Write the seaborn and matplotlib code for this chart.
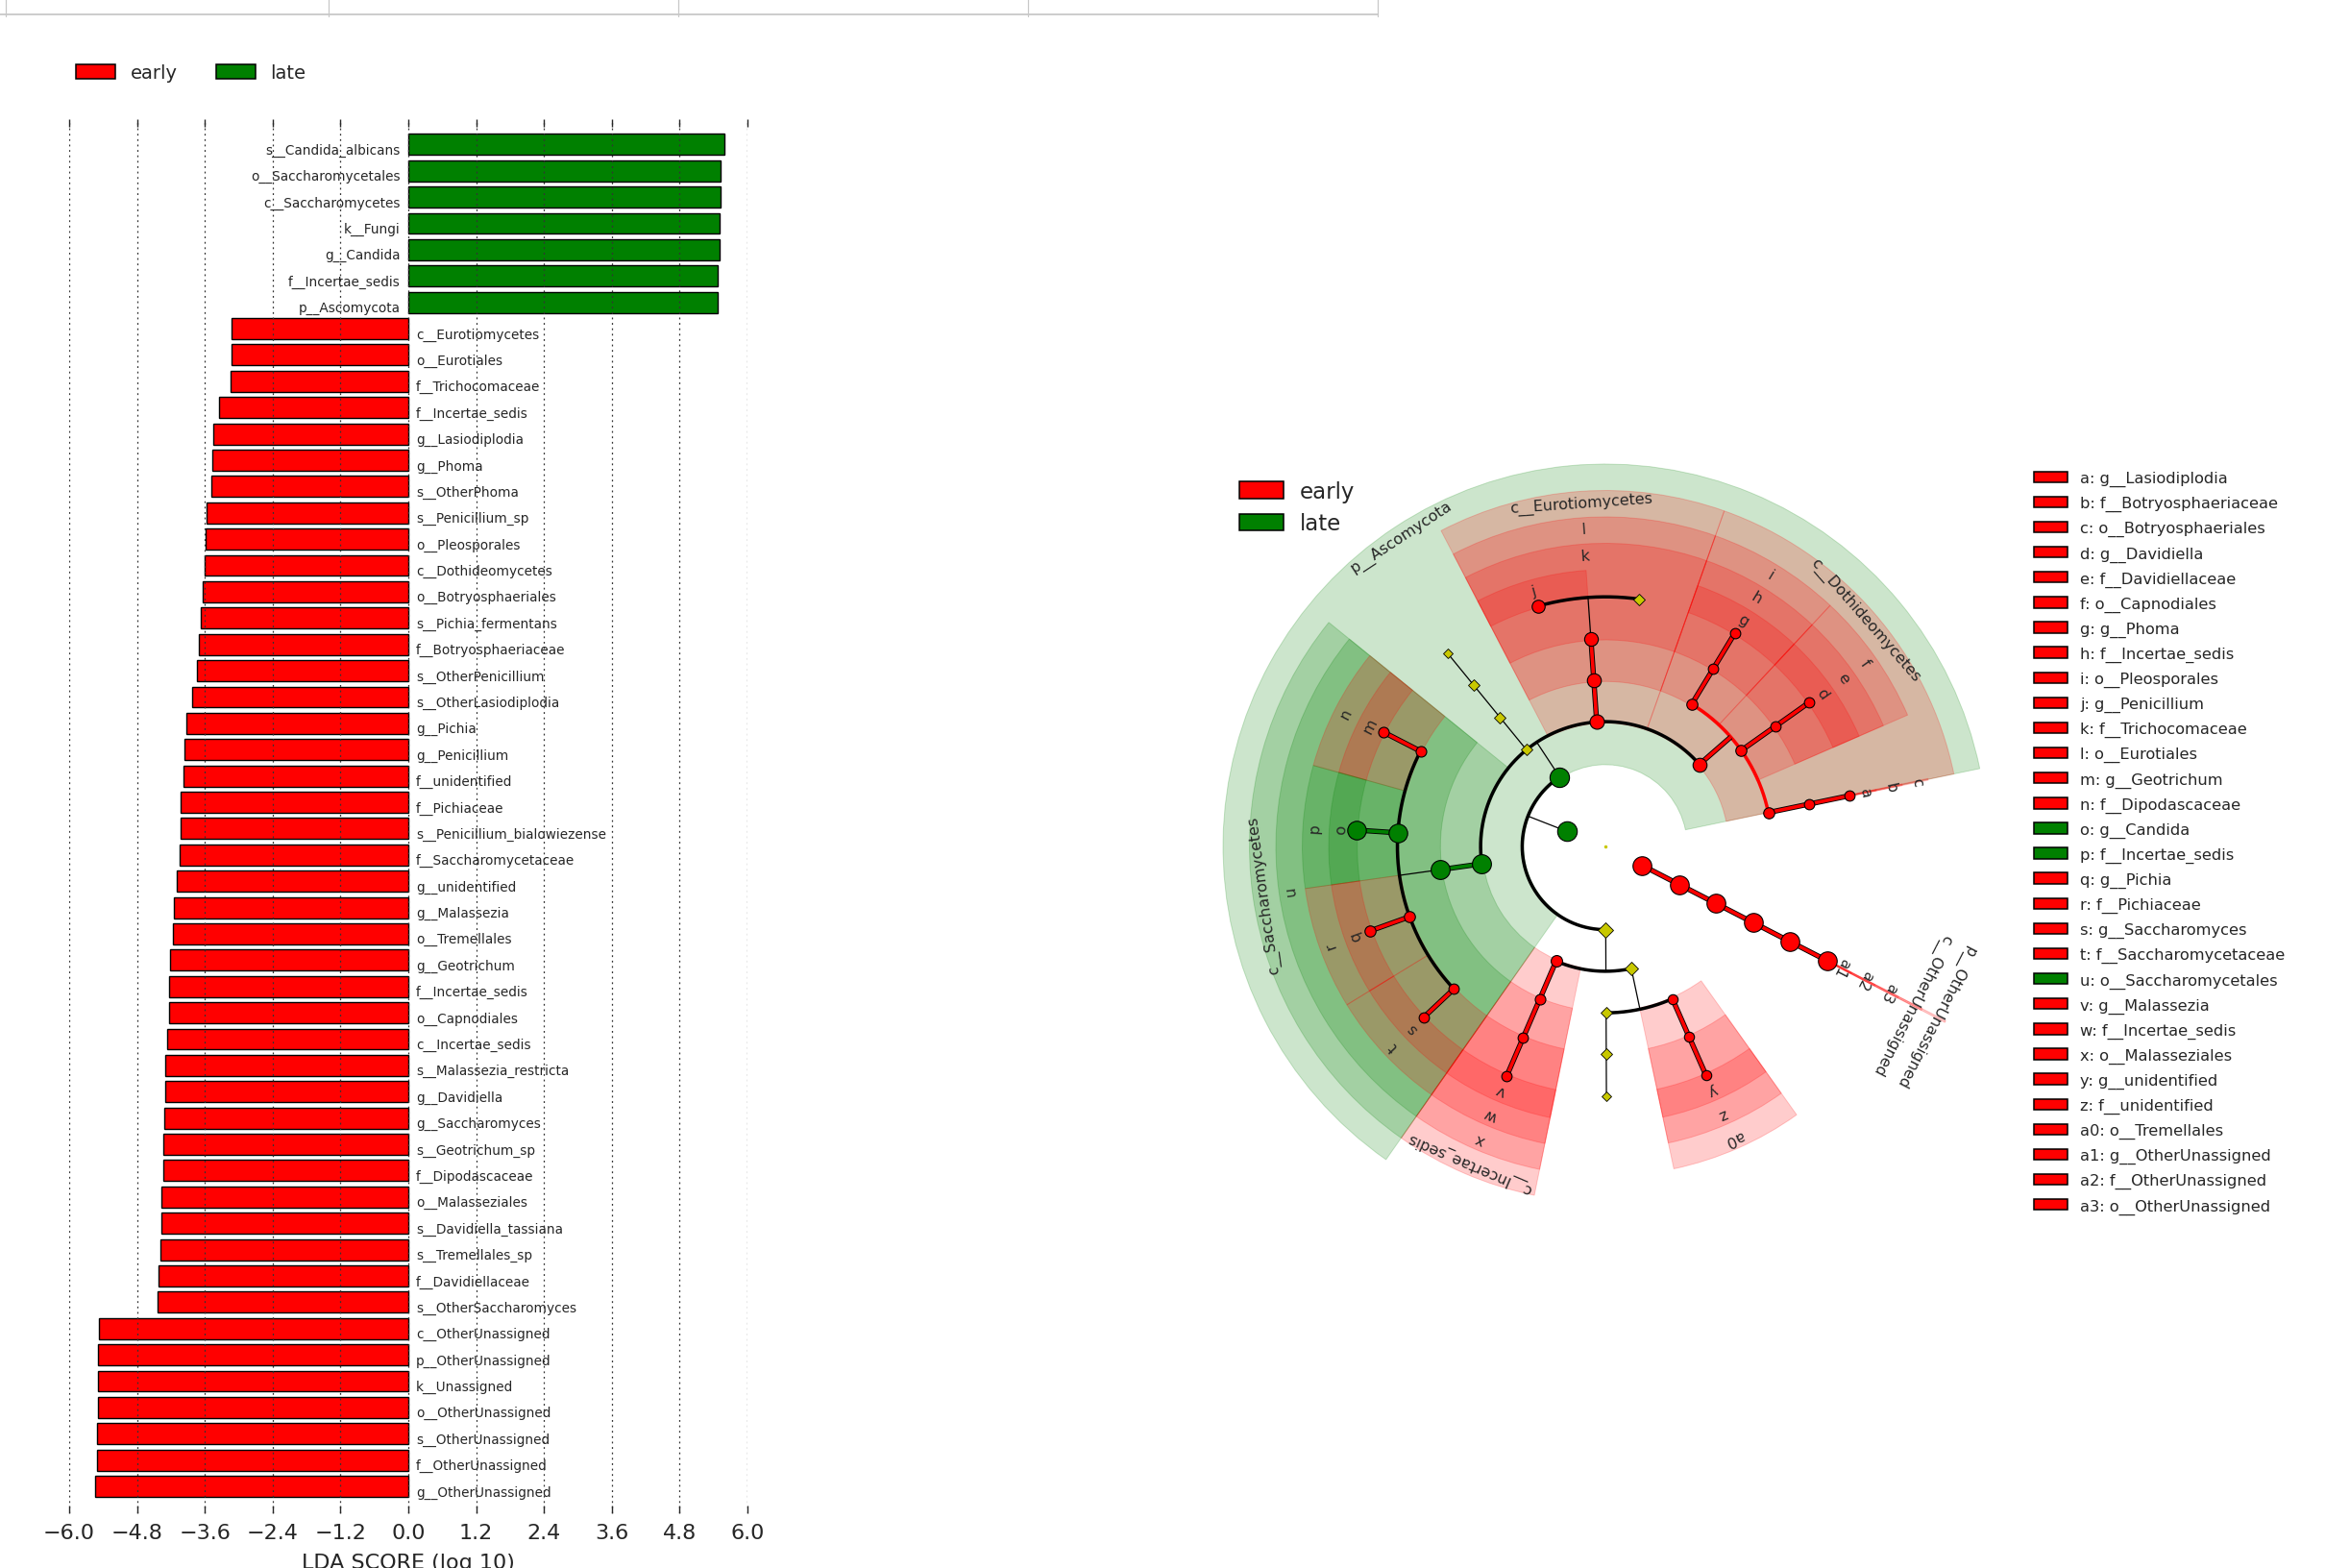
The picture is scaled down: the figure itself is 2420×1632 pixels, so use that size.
import numpy as np
import pandas as pd
import matplotlib
matplotlib.use("Agg")
import matplotlib.pyplot as plt
import matplotlib.patheffects as pe
from matplotlib.patches import Patch
from matplotlib.lines import Line2D
import seaborn as sns

sns.set_style("white")
plt.rcParams["font.family"] = ["DejaVu Sans"]

RED = "#ff0000"
GREEN = "#008000"
YELLOW = "#c8c800"
class_colors = {"early": RED, "late": GREEN}

# ---------------- LDA bar chart data ----------------
features = [
    "s__Candida_albicans", "o__Saccharomycetales", "c__Saccharomycetes", "k__Fungi",
    "g__Candida", "f__Incertae_sedis", "p__Ascomycota",
    "c__Eurotiomycetes", "o__Eurotiales", "f__Trichocomaceae", "f__Incertae_sedis",
    "g__Lasiodiplodia", "g__Phoma", "s__OtherPhoma", "s__Penicillium_sp",
    "o__Pleosporales", "c__Dothideomycetes", "o__Botryosphaeriales", "s__Pichia_fermentans",
    "f__Botryosphaeriaceae", "s__OtherPenicillium", "s__OtherLasiodiplodia", "g__Pichia",
    "g__Penicillium", "f__unidentified", "f__Pichiaceae", "s__Penicillium_bialowiezense",
    "f__Saccharomycetaceae", "g__unidentified", "g__Malassezia", "o__Tremellales",
    "g__Geotrichum", "f__Incertae_sedis", "o__Capnodiales", "c__Incertae_sedis",
    "s__Malassezia_restricta", "g__Davidiella", "g__Saccharomyces", "s__Geotrichum_sp",
    "f__Dipodascaceae", "o__Malasseziales", "s__Davidiella_tassiana", "s__Tremellales_sp",
    "f__Davidiellaceae", "s__OtherSaccharomyces", "c__OtherUnassigned", "p__OtherUnassigned",
    "k__Unassigned", "o__OtherUnassigned", "s__OtherUnassigned", "f__OtherUnassigned",
    "g__OtherUnassigned",
]
lda_scores = [
    5.59, 5.53, 5.53, 5.50, 5.50, 5.48, 5.48,
    -3.12, -3.13, -3.15, -3.35, -3.45, -3.47, -3.49, -3.57, -3.59, -3.61, -3.64,
    -3.67, -3.71, -3.74, -3.83, -3.92, -3.96, -3.97, -4.03, -4.03, -4.05, -4.09,
    -4.14, -4.16, -4.21, -4.23, -4.24, -4.26, -4.30, -4.30, -4.32, -4.34, -4.34,
    -4.36, -4.36, -4.39, -4.42, -4.44, -5.47, -5.49, -5.49, -5.49, -5.51, -5.51, -5.54,
]
feature_class = ["late" if v > 0 else "early" for v in lda_scores]
lda_ticks = [-6.0, -4.8, -3.6, -2.4, -1.2, 0.0, 1.2, 2.4, 3.6, 4.8, 6.0]

# ---------------- cladogram data ----------------
A = "k__Fungi|p__Ascomycota"
B = "k__Fungi|p__other"
U = "k__Unassigned"
clade_lineage = [
    "k__Fungi",
    A,
    A + "|c__Dothideomycetes",
    A + "|c__Dothideomycetes|o__Botryosphaeriales",
    A + "|c__Dothideomycetes|o__Botryosphaeriales|f__Botryosphaeriaceae",
    A + "|c__Dothideomycetes|o__Botryosphaeriales|f__Botryosphaeriaceae|g__Lasiodiplodia",
    A + "|c__Dothideomycetes|o__Capnodiales",
    A + "|c__Dothideomycetes|o__Capnodiales|f__Davidiellaceae",
    A + "|c__Dothideomycetes|o__Capnodiales|f__Davidiellaceae|g__Davidiella",
    A + "|c__Dothideomycetes|o__Pleosporales",
    A + "|c__Dothideomycetes|o__Pleosporales|f__Incertae_sedis",
    A + "|c__Dothideomycetes|o__Pleosporales|f__Incertae_sedis|g__Phoma",
    A + "|c__Eurotiomycetes",
    A + "|c__Eurotiomycetes|o__Eurotiales",
    A + "|c__Eurotiomycetes|o__Eurotiales|f__Trichocomaceae",
    A + "|c__Eurotiomycetes|o__Eurotiales|f__Trichocomaceae|g__other",
    A + "|c__Eurotiomycetes|o__Eurotiales|f__Trichocomaceae|g__Penicillium",
    A + "|c__other",
    A + "|c__other|o__other",
    A + "|c__other|o__other|f__other",
    A + "|c__other|o__other|f__other|g__other",
    A + "|c__Saccharomycetes",
    A + "|c__Saccharomycetes|o__Saccharomycetales",
    A + "|c__Saccharomycetes|o__Saccharomycetales|f__Dipodascaceae",
    A + "|c__Saccharomycetes|o__Saccharomycetales|f__Dipodascaceae|g__Geotrichum",
    A + "|c__Saccharomycetes|o__Saccharomycetales|f__Incertae_sedis",
    A + "|c__Saccharomycetes|o__Saccharomycetales|f__Incertae_sedis|g__Candida",
    A + "|c__Saccharomycetes|o__Saccharomycetales|f__Pichiaceae",
    A + "|c__Saccharomycetes|o__Saccharomycetales|f__Pichiaceae|g__Pichia",
    A + "|c__Saccharomycetes|o__Saccharomycetales|f__Saccharomycetaceae",
    A + "|c__Saccharomycetes|o__Saccharomycetales|f__Saccharomycetaceae|g__Saccharomyces",
    B,
    B + "|c__Incertae_sedis",
    B + "|c__Incertae_sedis|o__Malasseziales",
    B + "|c__Incertae_sedis|o__Malasseziales|f__Incertae_sedis",
    B + "|c__Incertae_sedis|o__Malasseziales|f__Incertae_sedis|g__Malassezia",
    B + "|c__other",
    B + "|c__other|o__other",
    B + "|c__other|o__other|f__other",
    B + "|c__other|o__other|f__other|g__other",
    B + "|c__other|o__Tremellales",
    B + "|c__other|o__Tremellales|f__unidentified",
    B + "|c__other|o__Tremellales|f__unidentified|g__unidentified",
    U,
    U + "|p__OtherUnassigned",
    U + "|p__OtherUnassigned|c__OtherUnassigned",
    U + "|p__OtherUnassigned|c__OtherUnassigned|o__OtherUnassigned",
    U + "|p__OtherUnassigned|c__OtherUnassigned|o__OtherUnassigned|f__OtherUnassigned",
    U + "|p__OtherUnassigned|c__OtherUnassigned|o__OtherUnassigned|f__OtherUnassigned|g__OtherUnassigned",
]
clade_class = [
    "late", "late",
    "early", "early", "early", "early", "early", "early", "early", "early", "early", "early",
    "early", "early", "early", "none", "early",
    "none", "none", "none", "none",
    "late", "late", "early", "early", "late", "late", "early", "early", "early", "early",
    "none", "early", "early", "early", "early",
    "none", "none", "none", "none", "early", "early", "early",
    "early", "early", "early", "early", "early", "early",
]
# relative abundance (%) of every clade, drives the node size
clade_abundance = [
    60, 55,
    4, 1.0, 0.7, 0.7, 1.0, 0.7, 0.7, 1.0, 0.7, 0.7,
    5, 4, 3.5, 0.4, 2.5,
    0.5, 0.4, 0.35, 0.3,
    45, 44, 0.8, 0.8, 38, 38, 1.0, 1.0, 0.7, 0.7,
    2, 1.2, 0.8, 0.7, 0.7,
    1.0, 0.4, 0.35, 0.3, 0.6, 0.6, 0.6,
    40, 40, 40, 40, 40, 40,
]
# number of species under each genus (0 for higher ranks)
clade_species = [
    0, 0,
    0, 0, 0, 1, 0, 0, 6, 0, 0, 6,
    0, 0, 0, 6, 3,
    0, 0, 0, 4,
    0, 0, 0, 8, 0, 8, 0, 8, 0, 8,
    0, 0, 0, 0, 10,
    0, 0, 0, 4, 0, 0, 8,
    0, 0, 0, 0, 0, 1,
]

# ---------------- cladogram layout ----------------
names = clade_lineage
cls = dict(zip(names, clade_class))
abund = dict(zip(names, clade_abundance))
nsp = dict(zip(names, clade_species))
level = {n: n.count("|") + 1 for n in names}
children = {n: [] for n in names}
children["root"] = []
for n in names:
    parent = n.rsplit("|", 1)[0] if "|" in n else "root"
    children[parent].append(n)

leaves = [n for n in names if not children[n]]
gap_frac = 0.66
n_king = len(children["root"])
step = 360.0 / (len(leaves) + n_king * gap_frac)
leaf_ext = {}
theta = 0.0
prev = None
for lf in leaves:
    king = lf.split("|")[0]
    if prev is not None and king != prev:
        theta += gap_frac * step
    prev = king
    if nsp[lf] > 1:
        leaf_ext[lf] = (theta, theta + step)
    else:
        leaf_ext[lf] = (theta + 0.5 * step, theta + 0.5 * step)
    theta += step


def get_span(n):
    if not children[n]:
        return leaf_ext[n]
    s = [get_span(c) for c in children[n]]
    return min(x[0] for x in s), max(x[1] for x in s)


spans = {n: get_span(n) for n in names}
angle = {n: 0.5 * (spans[n][0] + spans[n][1]) for n in names}

RSTEP = 43.3


def rad(n):
    return RSTEP * level[n]


def wedge_out(L):
    return 288 + (6 - L) * 27.5


def postorder(n, out):
    for c in children[n]:
        postorder(c, out)
    out.append(n)


porder = []
postorder("root", porder)
marked = [n for n in porder if n != "root" and cls[n] != "none" and level[n] >= 4]
letters = {}
for i, n in enumerate(marked):
    letters[n] = chr(97 + i) if i < 26 else "a%d" % (i - 26)

# ---------------- figure ----------------
fig = plt.figure(figsize=(24.2, 16.33), dpi=100)
W, H = 2420.0, 1633.0

# light table border left at the top of the page
fig.add_artist(Line2D([0, 1434 / W], [1 - 16 / H] * 2, color="#c8c8c8", lw=1.3,
                      transform=fig.transFigure))
for xp in [6, 342, 706, 1070, 1434]:
    fig.add_artist(Line2D([xp / W] * 2, [1, 1 - 18 / H], color="#c8c8c8", lw=0.9,
                          transform=fig.transFigure))

# ---- LDA bars
ax1 = fig.add_axes([72 / W, 1 - 1576 / H, 706 / W, 1451 / H])
df = pd.DataFrame({"row": np.arange(len(features)), "feature": features,
                   "lda": lda_scores, "group": feature_class})
sns.barplot(data=df, x="lda", y="row", hue="group", orient="h", dodge=False,
            palette=class_colors, edgecolor="black", linewidth=1.0, width=0.8,
            saturation=1, legend=False, ax=ax1)
for i, (name, v) in enumerate(zip(features, lda_scores)):
    if v > 0:
        ax1.text(-0.14, i + 0.2, name, ha="right", va="center", fontsize=9.8)
    else:
        ax1.text(0.14, i + 0.2, name, ha="left", va="center", fontsize=9.8)
ax1.set_xlim(-6.0, 6.0)
ax1.set_ylim(52.02, -0.962)
ax1.set_yticks([])
ax1.set_ylabel("")
ax1.set_xticks(lda_ticks)
ax1.set_xticklabels([("%.1f" % t).replace("-", "\u2212") for t in lda_ticks])
ax1.xaxis.set_ticks_position("both")
ax1.tick_params(axis="x", direction="in", length=6, width=1, labelsize=16, pad=7)
ax1.grid(axis="x", linestyle=(0, (1.5, 3)), color="#333333", linewidth=0.9)
ax1.grid(axis="y", visible=False)
ax1.set_axisbelow(False)
for s in ax1.spines.values():
    s.set_visible(False)
ax1.set_xlabel("LDA SCORE (log 10)", fontsize=16, labelpad=8)

h1 = [Patch(facecolor=RED, edgecolor="black", lw=1.1, label="early"),
      Patch(facecolor=GREEN, edgecolor="black", lw=1.1, label="late")]
fig.legend(handles=h1, loc="center left", bbox_to_anchor=(79 / W, 1 - 77 / H), ncol=2,
           frameon=False, fontsize=14, handlelength=2.12, handleheight=0.83,
           handletextpad=0.78, columnspacing=2.07, borderpad=0, borderaxespad=0)

# ---- cladogram
CX, CY, RMAX = 1671.0, 882.0, 440.0
ax2 = fig.add_axes([(CX - RMAX) / W, 1 - (CY + RMAX) / H, 2 * RMAX / W, 2 * RMAX / H],
                   projection="polar")
ax2.set_ylim(0, RMAX)
ax2.set_axis_off()

# shaded sectors of the biomarker clades
for n in names:
    c = cls[n]
    if c == "none" or level[n] < 2:
        continue
    a0, a1 = spans[n]
    wdt = max(a1 - a0, 0.3)
    rin = rad(n) - 1.5
    ax2.bar(np.radians(0.5 * (a0 + a1)), wedge_out(level[n]) - rin, width=np.radians(wdt),
            bottom=rin, color=class_colors[c], alpha=0.2, edgecolor=class_colors[c],
            linewidth=0.7, zorder=1)

# branches
for p in names:
    kids = children[p]
    if not kids:
        continue
    cp = cls[p]
    same = cp != "none" and all(cls[k] == cp for k in kids)
    th = np.radians(angle[p])
    r0 = rad(p)
    r1 = r0 + RSTEP
    if same:
        ax2.plot([th, th], [r0, r1], color=class_colors[cp], lw=2.6, solid_capstyle="butt",
                 path_effects=[pe.Stroke(linewidth=3.9, foreground="black"), pe.Normal()],
                 zorder=3)
    else:
        ax2.plot([th, th], [r0, r1], color="black", lw=0.9, zorder=2)
    if len(kids) > 1:
        ks = [angle[k] for k in kids]
        t = np.radians(np.linspace(min(ks), max(ks), 200))
        ax2.plot(t, np.full_like(t, r1), color=class_colors[cp] if same else "black",
                 lw=2.5, zorder=2)

# nodes
ax2.plot(0, 0, "o", ms=2.5, color=YELLOW, mec="none", zorder=4)
for n in names:
    rp = max(5 + 2.5 * np.log10(abund[n] / 0.5), 3.5)
    ms = 2 * rp * 0.72
    if cls[n] == "none":
        ax2.plot(np.radians(angle[n]), rad(n), "D", ms=ms * 0.85, mfc=YELLOW, mec="black",
                 mew=0.6, zorder=4)
    else:
        ax2.plot(np.radians(angle[n]), rad(n), "o", ms=ms, mfc=class_colors[cls[n]],
                 mec="black", mew=0.8, zorder=4)

# clade labels
for n in names:
    if cls[n] == "none" or level[n] < 2:
        continue
    L = level[n]
    lab = n.split("|")[-1] if L <= 3 else letters[n]
    ax2.text(np.radians(angle[n]), wedge_out(L) - 12, lab, rotation=angle[n] - 90,
             rotation_mode="anchor", ha="center", va="center", fontsize=11.4, zorder=5)

h2 = [Patch(facecolor=RED, edgecolor="black", lw=1.1, label="early"),
      Patch(facecolor=GREEN, edgecolor="black", lw=1.1, label="late")]
fig.legend(handles=h2, loc="upper left", bbox_to_anchor=(1290 / W, 1 - 501 / H),
           frameon=False, fontsize=16.5, handlelength=2.0, handleheight=0.78,
           handletextpad=0.76, labelspacing=0.45, borderpad=0, borderaxespad=0)

h3 = [Patch(facecolor=class_colors[cls[n]], edgecolor="black", lw=1.1,
            label="%s: %s" % (letters[n], n.split("|")[-1])) for n in marked]
fig.legend(handles=h3, loc="upper left", bbox_to_anchor=(2117 / W, 1 - 491 / H),
           frameon=False, fontsize=11.7, handlelength=2.16, handleheight=0.7,
           handletextpad=0.8, labelspacing=0.61, borderpad=0, borderaxespad=0)

fig.savefig("out.png", dpi=100)
